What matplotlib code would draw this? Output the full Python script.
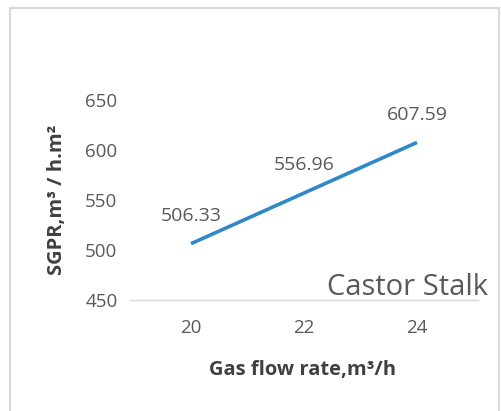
import matplotlib
matplotlib.use("Agg")
from matplotlib import pyplot as plt
from matplotlib.patches import Rectangle

# data
flow_rate = [20, 22, 24]
sgpr = [506.33, 556.96, 607.59]
value_labels = ["506.33", "556.96", "607.59"]
x_ticks = [20, 22, 24]
y_ticks = [450, 500, 550, 600, 650]

plt.rcParams['font.family'] = ['Open Sans', 'DejaVu Sans']

fig = plt.figure(figsize=(5.02, 4.11), dpi=100)
fig.patch.set_facecolor("white")

# light outer frame like the Excel chart area
fig.patches.append(Rectangle((10 / 502, -0.01), 489 / 502, 1 - 8 / 411 + 0.01,
                             transform=fig.transFigure, fill=False,
                             edgecolor="#d9d9d9", linewidth=1.5))

ax = fig.add_axes([130 / 502, 111 / 411, 348 / 502, 200 / 411])
ax.plot(flow_rate, sgpr, color="#2f88c8", linewidth=2.6, solid_capstyle="butt")

for x, y, lab in zip(flow_rate, sgpr, value_labels):
    ax.annotate(lab, (x, y), xytext=(0, 20), textcoords="offset points",
                ha="center", va="center", fontsize=14, color="#595959")

ax.set_xlim(18.92, 25.08)
ax.set_ylim(450, 650)
ax.set_xticks(x_ticks)
ax.set_yticks(y_ticks)
ax.tick_params(axis="both", length=0, labelsize=13.5, labelcolor="#595959")
ax.tick_params(axis="x", pad=14)
ax.tick_params(axis="y", pad=9)

for side in ["top", "right", "left"]:
    ax.spines[side].set_visible(False)
ax.spines["bottom"].set_color("#d9d9d9")
ax.spines["bottom"].set_linewidth(1.0)

ax.set_xlabel("Gas flow rate,m³/h", fontsize=14.5, fontweight="bold",
              color="#404040", va="center")
ax.xaxis.set_label_coords(0.497, -0.35)
ax.set_ylabel("SGPR,m³ / h.m²", fontsize=14.5, fontweight="bold",
              color="#404040", va="center")
ax.yaxis.set_label_coords(-0.21, 0.5)

ax.text(0.797, 0.065, "Castor Stalk", transform=ax.transAxes, ha="center",
        va="center", fontsize=21, color="#595959")

fig.savefig("out.png", dpi=100, facecolor="white")
